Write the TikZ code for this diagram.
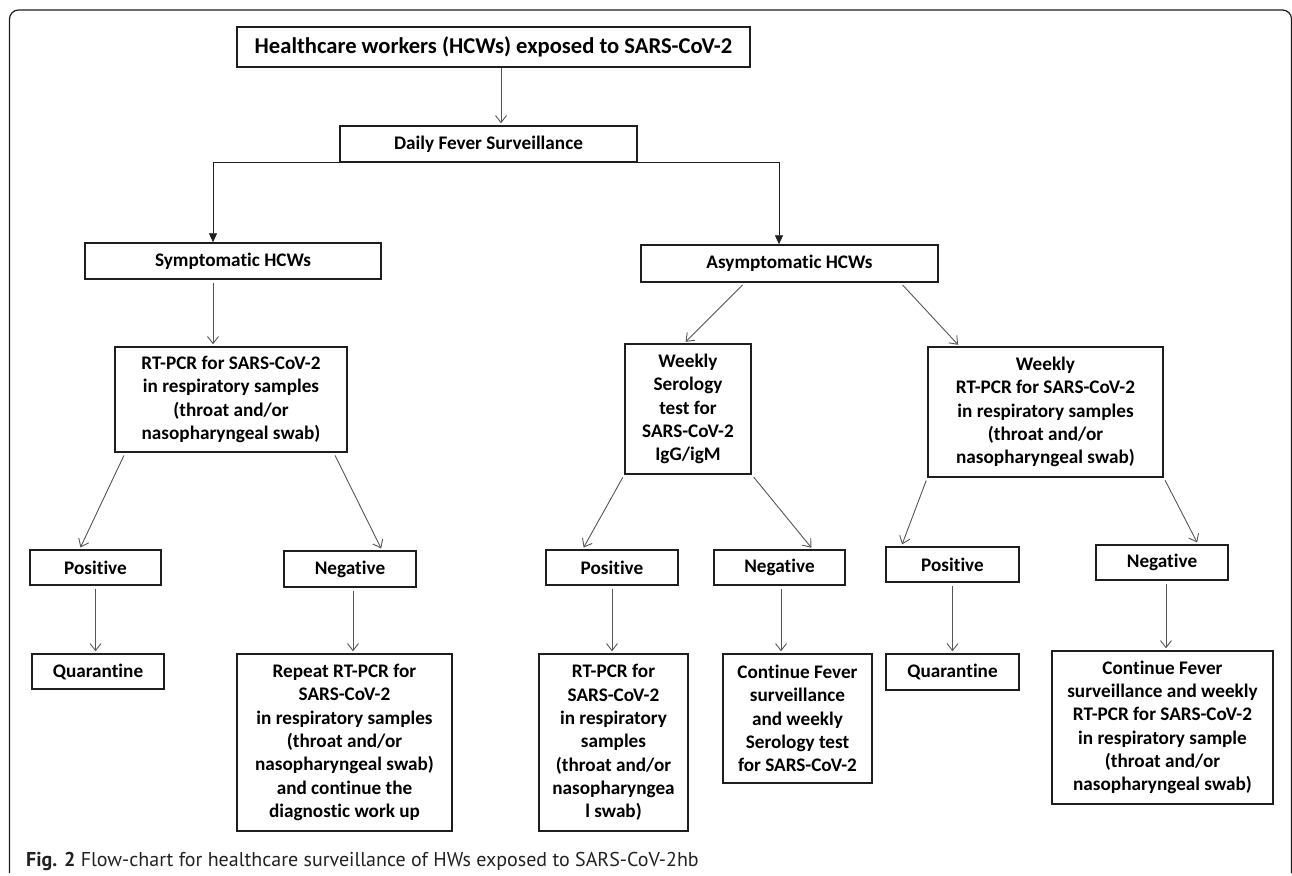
\documentclass[tikz,border=0pt]{standalone}
\usepackage{fontspec}
\setmainfont{Carlito}[Ligatures=NoCommon]
\newfontfamily\capfont{PT Sans}
\usetikzlibrary{arrows.meta,calc}
\definecolor{boxc}{HTML}{1E1E1E}
\definecolor{arrc}{HTML}{555555}
\definecolor{capc}{HTML}{222222}
\begin{document}
\begin{tikzpicture}[x=1pt,y=-1pt,
  bx/.style={draw=boxc,line width=1.5pt,inner sep=0pt,align=center,
    font=\bfseries\fontsize{19.2}{23.3}\selectfont,text=black},
  arr/.style={draw=arrc,line width=0.9pt,
    -{Straight Barb[length=7pt,width=11pt,line width=0.9pt]},shorten >=2pt,shorten <=3pt},
  farr/.style={draw=boxc,line width=0.9pt,-{Triangle[length=9pt,width=8pt]}}]
\useasboundingbox (0,0) rectangle (1292,875);
% frame
\draw[draw=boxc,line width=1.2pt,rounded corners=9pt] (9.5,873) -- (9.5,10) -- (1291.5,10) -- (1291.5,873);
% helper coordinates for vertical connectors
\coordinate (vx1) at (501,0);
\coordinate (vx2) at (213,0);
\coordinate (vx3) at (779,0);
\coordinate (vx4) at (353,0);
\coordinate (vx5) at (1166,0);
\coordinate (vx6) at (781,0);
% nodes
\node[bx,minimum width=513pt,minimum height=40pt,font=\bfseries\fontsize{22.6}{26}\selectfont] (top) at (493.5,47) {Healthcare workers (HCWs) exposed to SARS-CoV-2};
\node[bx,minimum width=297pt,minimum height=36pt] (daily) at (488.5,144) {Daily Fever Surveillance};
\node[bx,minimum width=296pt,minimum height=36pt] (symp) at (233,261) {Symptomatic HCWs};
\node[bx,minimum width=297pt,minimum height=37pt] (asym) at (789.5,263.5) {Asymptomatic HCWs};
\node[bx,minimum width=232pt,minimum height=105pt] (rt1) at (231,399.5) {RT-PCR for SARS-CoV-2\\ in respiratory samples\\(throat and/or\\nasopharyngeal swab)};
\node[bx,minimum width=126pt,minimum height=130pt] (sero) at (688,409) {Weekly\\Serology\\test for\\SARS-CoV-2\\IgG/igM};
\node[bx,minimum width=235pt,minimum height=130pt] (wrt) at (1045.5,412) {Weekly\\RT-PCR for SARS-CoV-2\\ in respiratory samples\\(throat and/or\\nasopharyngeal swab)};
\node[bx,minimum width=131pt,minimum height=35pt] (pos1) at (95.5,567.5) {Positive};
\node[bx,minimum width=132pt,minimum height=36pt] (neg1) at (350,569) {Negative};
\node[bx,minimum width=132pt,minimum height=35pt] (pos2) at (612,567.5) {Positive};
\node[bx,minimum width=131pt,minimum height=35pt] (neg2) at (779.5,567.5) {Negative};
\node[bx,minimum width=133pt,minimum height=35pt] (pos3) at (952.5,564.5) {Positive};
\node[bx,minimum width=132pt,minimum height=35pt] (neg3) at (1162,562.5) {Negative};
\node[bx,minimum width=132pt,minimum height=35pt] (quar1) at (98,671.5) {Quarantine};
\node[bx,minimum width=215pt,minimum height=177pt] (rep) at (344.5,742.5) {Repeat RT-PCR for\\SARS-CoV-2\\ in respiratory samples\\(throat and/or\\nasopharyngeal swab)\\and continue the\\diagnostic work up};
\node[bx,minimum width=149pt,minimum height=177pt] (rt2) at (613.5,742.5) {RT-PCR for\\SARS-CoV-2\\in respiratory\\samples\\(throat and/or\\nasopharyngea\\l swab)};
\node[bx,minimum width=149pt,minimum height=129pt] (cont2) at (797.5,718.5) {Continue Fever\\surveillance\\and weekly\\Serology test\\for SARS-CoV-2};
\node[bx,minimum width=133pt,minimum height=36pt] (quar3) at (952.5,672) {Quarantine};
\node[bx,minimum width=221pt,minimum height=153pt] (cont3) at (1162.5,727.5) {Continue Fever\\surveillance and weekly\\RT-PCR for SARS-CoV-2\\ in respiratory sample\\(throat and/or\\nasopharyngeal swab)};
% caption
\node[anchor=base west,inner sep=0pt,text=capc,font=\capfont\fontsize{20}{24}\selectfont] (cap) at (26,866) {\textbf{Fig. 2} Flow-chart for healthcare surveillance of HWs exposed to SARS-CoV-2hb};
% connectors
\draw[arr,shorten <=0pt] (top.south -| vx1) -- (daily.north -| vx1);
\draw[farr] (daily.south) -| (symp.north -| vx2);
\draw[farr] (daily.south) -| (asym.north -| vx3);
\draw[arr] (symp.south -| vx2) -- (rt1.north -| vx2);
\draw[arr] ($(asym.south west)!0.35!(asym.south east)$) -- ($(sero.north west)!0.47!(sero.north east)$);
\draw[arr] ($(asym.south west)!0.872!(asym.south east)$) -- ($(wrt.north west)!0.136!(wrt.north east)$);
\draw[arr] ($(rt1.south west)!0.047!(rt1.south east)$) -- ($(pos1.north west)!0.38!(pos1.north east)$);
\draw[arr] ($(rt1.south west)!0.94!(rt1.south east)$) -- ($(neg1.north west)!0.74!(neg1.north east)$);
\draw[arr] (sero.south west) -- ($(pos2.north west)!0.28!(pos2.north east)$);
\draw[arr] (sero.south east) -- ($(neg2.north west)!0.75!(neg2.north east)$);
\draw[arr] (wrt.south west) -- ($(pos3.north west)!0.12!(pos3.north east)$);
\draw[arr] (wrt.south east) -- ($(neg3.north west)!0.77!(neg3.north east)$);
\draw[arr] (pos1.south) -- (pos1.south |- quar1.north);
\draw[arr] (neg1.south -| vx4) -- (rep.north -| vx4);
\draw[arr] (pos2.south) -- (pos2.south |- rt2.north);
\draw[arr] (neg2.south -| vx6) -- (cont2.north -| vx6);
\draw[arr] (pos3.south) -- (pos3.south |- quar3.north);
\draw[arr] (neg3.south -| vx5) -- (cont3.north -| vx5);
\end{tikzpicture}
\end{document}
